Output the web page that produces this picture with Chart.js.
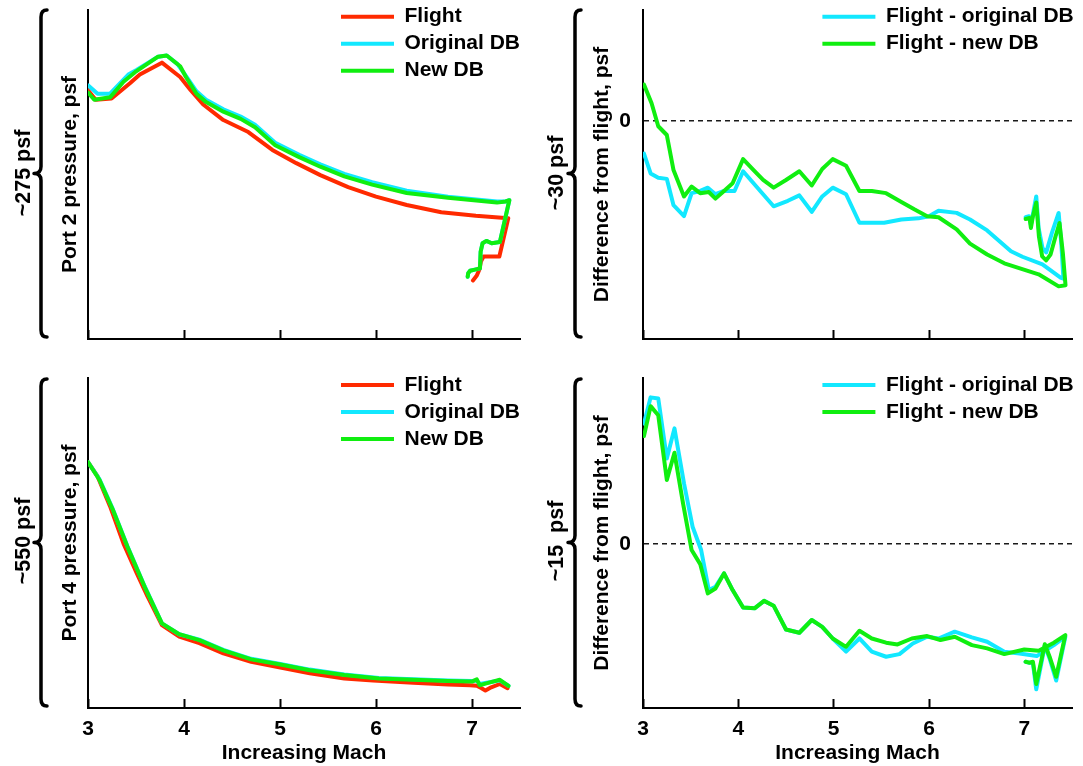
<!DOCTYPE html>
<html><head><meta charset="utf-8">
<script src="https://cdn.jsdelivr.net/npm/chart.js@4.4.1/dist/chart.umd.min.js"></script>
<style>
html,body{margin:0;padding:0;background:#fff;}
#wrap{position:relative;width:1083px;height:766px;overflow:hidden;background:#fff;font-family:"Liberation Sans",Arial,Helvetica,sans-serif;}
canvas{position:absolute;}
.rot{position:absolute;transform:translate(-50%,-50%) rotate(-90deg);white-space:pre;font-weight:bold;font-size:21.5px;line-height:1;color:#000;}
#braces{position:absolute;left:0;top:0;}
</style></head><body>
<div id="wrap">
<svg id="braces" width="1083" height="766"></svg>
<canvas id="c1" width="541" height="360" style="left:0;top:0"></canvas>
<canvas id="c2" width="542" height="360" style="left:541px;top:0"></canvas>
<canvas id="c3" width="541" height="406" style="left:0;top:360px"></canvas>
<canvas id="c4" width="542" height="406" style="left:541px;top:360px"></canvas>
<div class="rot" style="left:24px;top:173px">~275 psf</div>
<div class="rot" style="left:557px;top:173px">~30 psf</div>
<div class="rot" style="left:24px;top:541px">~550 psf</div>
<div class="rot" style="left:557px;top:541px">~15  psf</div>
</div>
<script>
// ---------- DATA ----------
const machTicks = [3, 4, 5, 6, 7];
const zeroTick = [0];

// Port 2 pressure (relative, full axis ~275 psf)
const p2FlightMach = [3.0, 3.08, 3.245, 3.44, 3.54, 3.77, 3.96, 4.07, 4.20, 4.41, 4.67, 4.92, 5.17, 5.42, 5.71, 6.0, 6.32, 6.68, 7.04, 7.378, 7.285, 7.12, 7.094, 7.076, 7.05, 7.01];
const p2Flight     = [208, 200, 201, 214, 221, 231, 219, 208, 196, 183, 173, 158, 147, 137, 127, 119, 112, 106, 103, 101, 69, 69, 65, 58, 53, 49];
const p2OrigMach   = [3.0, 3.1, 3.23, 3.42, 3.51, 3.73, 3.82, 3.93, 4.02, 4.13, 4.23, 4.41, 4.59, 4.74, 4.95, 5.2, 5.42, 5.67, 5.96, 6.32, 6.75, 7.26, 7.35, 7.389, 7.29, 7.205, 7.15, 7.11, 7.09, 7.083, 7.03, 6.98, 6.96, 6.955];
const p2Orig       = [212, 205, 205, 221, 225, 236, 237, 230, 220, 207, 200, 192, 186, 179, 164, 154, 146, 138, 131, 124, 119, 115, 115, 116, 81, 80, 82, 80, 73, 59, 58, 57, 55, 52];
const p2NewMach    = [3.0, 3.065, 3.23, 3.37, 3.49, 3.73, 3.82, 3.96, 4.02, 4.13, 4.23, 4.41, 4.59, 4.74, 4.95, 5.2, 5.42, 5.67, 5.96, 6.32, 6.75, 7.26, 7.35, 7.389, 7.29, 7.205, 7.15, 7.11, 7.09, 7.083, 7.03, 6.98, 6.96, 6.955];
const p2New        = [206, 200, 202, 215, 223, 236, 237, 228, 219, 205, 198, 190, 184, 177, 162, 152, 144, 136, 129, 122, 118, 114, 115, 116, 81, 80, 82, 80, 73, 59, 58, 57, 55, 52];

// Port 2 difference from flight (psf)
const d2OrigMach = [3.01, 3.08, 3.16, 3.25, 3.32, 3.43, 3.51, 3.6, 3.68, 3.76, 3.85, 3.96, 4.05, 4.23, 4.37, 4.52, 4.64, 4.77, 4.88, 4.99, 5.13, 5.27, 5.53, 5.71, 5.89, 6.0, 6.1, 6.29, 6.43, 6.61, 6.86, 6.98, 7.19, 7.38, 7.41, 7.39, 7.36, 7.29, 7.23, 7.19, 7.15, 7.125, 7.069, 7.05, 7.014];
const d2Orig     = [-3.0, -4.8, -5.2, -5.3, -7.7, -8.7, -6.6, -6.4, -6.1, -6.7, -6.4, -6.4, -4.6, -6.4, -7.8, -7.3, -6.8, -8.3, -6.9, -6.1, -6.7, -9.3, -9.3, -9.0, -8.9, -8.7, -8.2, -8.4, -9.0, -10.0, -11.9, -12.4, -13.1, -14.3, -14.4, -11.5, -8.4, -10.2, -12.0, -11.6, -9.8, -6.9, -9.5, -8.7, -8.8];
const d2NewMach  = [3.01, 3.09, 3.16, 3.25, 3.32, 3.43, 3.51, 3.6, 3.69, 3.76, 3.85, 3.94, 4.05, 4.16, 4.26, 4.37, 4.5, 4.64, 4.77, 4.88, 4.99, 5.13, 5.27, 5.4, 5.55, 5.71, 5.85, 5.98, 6.1, 6.29, 6.43, 6.61, 6.79, 6.97, 7.15, 7.36, 7.432, 7.404, 7.369, 7.327, 7.275, 7.229, 7.187, 7.153, 7.125, 7.09, 7.069, 7.055, 7.014];
const d2New      = [3.3, 1.6, -0.5, -1.3, -4.5, -6.9, -6.0, -6.6, -6.5, -7.1, -6.4, -5.7, -3.5, -4.5, -5.4, -6.1, -5.4, -4.6, -5.9, -4.4, -3.5, -4.1, -6.4, -6.4, -6.6, -7.4, -8.1, -8.7, -8.8, -9.9, -11.2, -12.2, -13.0, -13.5, -14.0, -15.1, -15.0, -12.06, -9.33, -10.55, -12.2, -12.73, -12.37, -10.55, -7.45, -8.72, -9.78, -8.87, -8.96];

// Port 4 pressure (relative, full axis ~550 psf)
const p4FlightMach = [3.0, 3.1, 3.23, 3.37, 3.51, 3.62, 3.77, 3.95, 4.16, 4.41, 4.7, 4.99, 5.31, 5.67, 5.97, 6.39, 6.75, 6.98, 7.05, 7.1, 7.14, 7.2, 7.29, 7.37];
const p4Flight     = [410, 386, 336, 274, 224, 186, 138, 119, 108, 91, 77, 68, 58, 49, 46, 42, 39, 38, 37, 33, 29, 34.5, 40, 33];
const p4OrigMach   = [3.0, 3.12, 3.26, 3.41, 3.59, 3.77, 3.95, 4.16, 4.41, 4.7, 4.99, 5.31, 5.67, 6.03, 6.39, 6.75, 7.0, 7.05, 7.08, 7.15, 7.29, 7.38];
const p4Orig       = [410, 381, 331, 270, 203, 141, 123, 114, 97, 82, 74, 64, 56, 50, 48, 46, 45, 46, 40, 42, 46, 37];
const p4NewMach    = [3.0, 3.12, 3.26, 3.41, 3.59, 3.77, 3.95, 4.16, 4.41, 4.7, 4.99, 5.31, 5.67, 6.03, 6.39, 6.75, 7.0, 7.05, 7.08, 7.15, 7.29, 7.38];
const p4New        = [410, 380, 330, 269, 202, 141, 123, 113, 96, 81, 73, 63, 55, 49, 47, 45, 44, 47.8, 38, 41, 47, 36.7];

// Port 4 difference from flight (psf)
const d4OrigMach = [3.01, 3.08, 3.16, 3.25, 3.33, 3.43, 3.52, 3.61, 3.69, 3.76, 3.85, 3.94, 4.05, 4.17, 4.27, 4.37, 4.5, 4.64, 4.77, 4.88, 4.99, 5.13, 5.27, 5.4, 5.55, 5.69, 5.83, 5.98, 6.1, 6.27, 6.45, 6.61, 6.79, 6.95, 7.13, 7.31, 7.43, 7.334, 7.265, 7.215, 7.125, 7.09, 7.048, 7.013];
const d4Orig     = [5.48, 6.67, 6.62, 3.89, 5.26, 2.76, 0.79, -0.27, -2.09, -1.94, -1.33, -2.09, -2.88, -2.92, -2.58, -2.8, -3.88, -4.03, -3.45, -3.76, -4.29, -4.89, -4.29, -4.89, -5.12, -5.0, -4.52, -4.21, -4.29, -3.98, -4.24, -4.44, -4.89, -4.97, -5.09, -4.59, -4.21, -6.2, -5.2, -4.6, -6.6, -5.4, -5.39, -5.35];
const d4NewMach  = [3.01, 3.08, 3.16, 3.25, 3.33, 3.42, 3.51, 3.6, 3.68, 3.76, 3.85, 3.94, 4.05, 4.17, 4.27, 4.37, 4.5, 4.64, 4.77, 4.88, 4.99, 5.13, 5.27, 5.4, 5.55, 5.67, 5.82, 5.98, 6.12, 6.27, 6.45, 6.61, 6.79, 7.0, 7.15, 7.31, 7.43, 7.334, 7.265, 7.215, 7.125, 7.09, 7.048, 7.013];
const d4New      = [4.91, 6.27, 5.86, 2.91, 4.15, 1.85, -0.27, -0.91, -2.24, -2.02, -1.33, -2.09, -2.88, -2.92, -2.58, -2.8, -3.88, -4.03, -3.45, -3.76, -4.29, -4.67, -3.94, -4.29, -4.48, -4.56, -4.29, -4.18, -4.36, -4.21, -4.59, -4.74, -5.0, -4.79, -4.85, -4.48, -4.14, -6.03, -5.12, -4.55, -6.36, -5.35, -5.39, -5.35];

// ---------- STYLE ----------
const RED = '#ff2a00', CYAN = '#12e8ff', GREEN = '#10ee10';
const FONT = '"Liberation Sans", Arial, Helvetica, sans-serif';
Chart.defaults.font.family = FONT;
Chart.defaults.color = '#000';
const bold21 = { family: FONT, size: 21, weight: 'bold', lineHeight: 1.2 };

// place the (chartArea) legend at a given spot inside the panel
const placeLegend = {
  id: 'placeLegend',
  afterLayout(chart, args, opts) {
    const L = chart.legend;
    if (!L || opts.x == null) return;
    L.left = opts.x; L.top = opts.y; L.right = chart.width; L.bottom = chart.height;
  }
};

function pts(xs, ys) { return xs.map((x, i) => ({ x: x, y: ys[i] })); }

function panel(id, o) {
  const n = o.series.length;
  new Chart(document.getElementById(id), {
    type: 'line',
    data: {
      datasets: o.series.map((s, i) => ({
        label: s.label, data: pts(s.x, s.y),
        borderColor: s.color, backgroundColor: s.color,
        borderWidth: 4, pointRadius: 0, tension: 0, fill: false,
        borderJoinStyle: 'round', borderCapStyle: 'round',
        order: n - i
      }))
    },
    options: {
      responsive: false, animation: false, events: [],
      layout: { padding: { left: 0, top: o.top, right: o.right, bottom: 0 } },
      scales: {
        x: {
          type: 'linear', min: 3, max: 7.5,
          afterBuildTicks: s => { s.ticks = machTicks.map(v => ({ value: v })); },
          afterFit: s => { s.height = o.xh; s.paddingLeft = 0; s.paddingRight = 0; },
          grid: { display: true, drawOnChartArea: false, drawTicks: true, tickLength: -9, tickWidth: 2, tickColor: '#000' },
          border: { display: true, color: '#000', width: 2 },
          ticks: { display: o.xlabels, padding: 18, color: '#000', font: bold21, maxRotation: 0 },
          title: { display: o.xlabels, text: 'Increasing Mach', color: '#000', font: bold21, padding: { top: 0, bottom: 0 } }
        },
        y: {
          type: 'linear', min: o.ymin, max: o.ymax,
          afterBuildTicks: s => { s.ticks = o.zero ? zeroTick.map(v => ({ value: v })) : []; },
          afterFit: s => { s.width = o.yw; s.paddingTop = 0; s.paddingBottom = 0; },
          grid: o.zero
            ? { display: true, drawOnChartArea: true, drawTicks: false, color: '#1a1a1a', lineWidth: 1.4 }
            : { display: false },
          border: { display: true, color: '#000', width: 2, dash: [5, 4] },
          ticks: { display: o.zero, padding: 12, color: '#000', font: bold21 },
          title: { display: true, text: o.ytitle, color: '#000', font: bold21, padding: { top: o.ytpad, bottom: 0 } }
        }
      },
      plugins: {
        tooltip: { enabled: false },
        legend: {
          display: true, position: 'chartArea', align: 'start',
          labels: {
            boxWidth: 53, boxHeight: 4, padding: 6, color: '#000', font: bold21,
            generateLabels: chart => {
              const items = Chart.defaults.plugins.legend.labels.generateLabels(chart);
              items.forEach(it => { it.fillStyle = it.strokeStyle; it.lineWidth = 0; });
              return items;
            },
            sort: (a, b) => a.datasetIndex - b.datasetIndex
          }
        },
        placeLegend: { x: o.lx, y: o.ly }
      }
    },
    plugins: [placeLegend]
  });
}

panel('c1', {
  top: 10, right: 21, xh: 21, yw: 88, ytpad: 57.4, xlabels: false, zero: false,
  ymin: 0, ymax: 275, ytitle: 'Port 2 pressure, psf', lx: 335, ly: 0.2,
  series: [
    { label: 'Flight', x: p2FlightMach, y: p2Flight, color: RED },
    { label: 'Original DB', x: p2OrigMach, y: p2Orig, color: CYAN },
    { label: 'New DB', x: p2NewMach, y: p2New, color: GREEN }
  ]
});
panel('c2', {
  top: 10, right: 11, xh: 21, yw: 102, ytpad: 48.4, xlabels: false, zero: true,
  ymin: -19.9, ymax: 10.1, ytitle: 'Difference from flight, psf', lx: 275.4, ly: 0.2,
  series: [
    { label: 'Flight - original DB', x: d2OrigMach, y: d2Orig, color: CYAN },
    { label: 'Flight - new DB', x: d2NewMach, y: d2New, color: GREEN }
  ]
});
panel('c3', {
  top: 18, right: 21, xh: 58, yw: 88, ytpad: 57.4, xlabels: true, zero: false,
  ymin: 0, ymax: 550, ytitle: 'Port 4 pressure, psf', lx: 335, ly: 8.5,
  series: [
    { label: 'Flight', x: p4FlightMach, y: p4Flight, color: RED },
    { label: 'Original DB', x: p4OrigMach, y: p4Orig, color: CYAN },
    { label: 'New DB', x: p4NewMach, y: p4New, color: GREEN }
  ]
});
panel('c4', {
  top: 18, right: 11, xh: 58, yw: 102, ytpad: 48.4, xlabels: true, zero: true,
  ymin: -7.45, ymax: 7.55, ytitle: 'Difference from flight, psf', lx: 275.4, ly: 8.5,
  series: [
    { label: 'Flight - original DB', x: d4OrigMach, y: d4Orig, color: CYAN },
    { label: 'Flight - new DB', x: d4NewMach, y: d4New, color: GREEN }
  ]
});

// curly braces beside each panel
function brace(x, y1, y2, tip) {
  const ym = (y1 + y2) / 2, r = 7;
  return `M ${x + 6} ${y1} Q ${x} ${y1} ${x} ${y1 + r} L ${x} ${ym - r} Q ${x} ${ym} ${x - tip} ${ym} ` +
         `Q ${x} ${ym} ${x} ${ym + r} L ${x} ${y2 - r} Q ${x} ${y2} ${x + 6} ${y2}`;
}
const svg = document.getElementById('braces');
[[41, 10, 337], [575, 10, 337], [41, 379, 706], [575, 379, 706]].forEach(b => {
  const p = document.createElementNS('http://www.w3.org/2000/svg', 'path');
  p.setAttribute('d', brace(b[0], b[1], b[2], 7));
  p.setAttribute('fill', 'none');
  p.setAttribute('stroke', '#000');
  p.setAttribute('stroke-width', '3.5');
  p.setAttribute('stroke-linecap', 'round');
  p.setAttribute('stroke-linejoin', 'round');
  svg.appendChild(p);
});
</script>
</body></html>
